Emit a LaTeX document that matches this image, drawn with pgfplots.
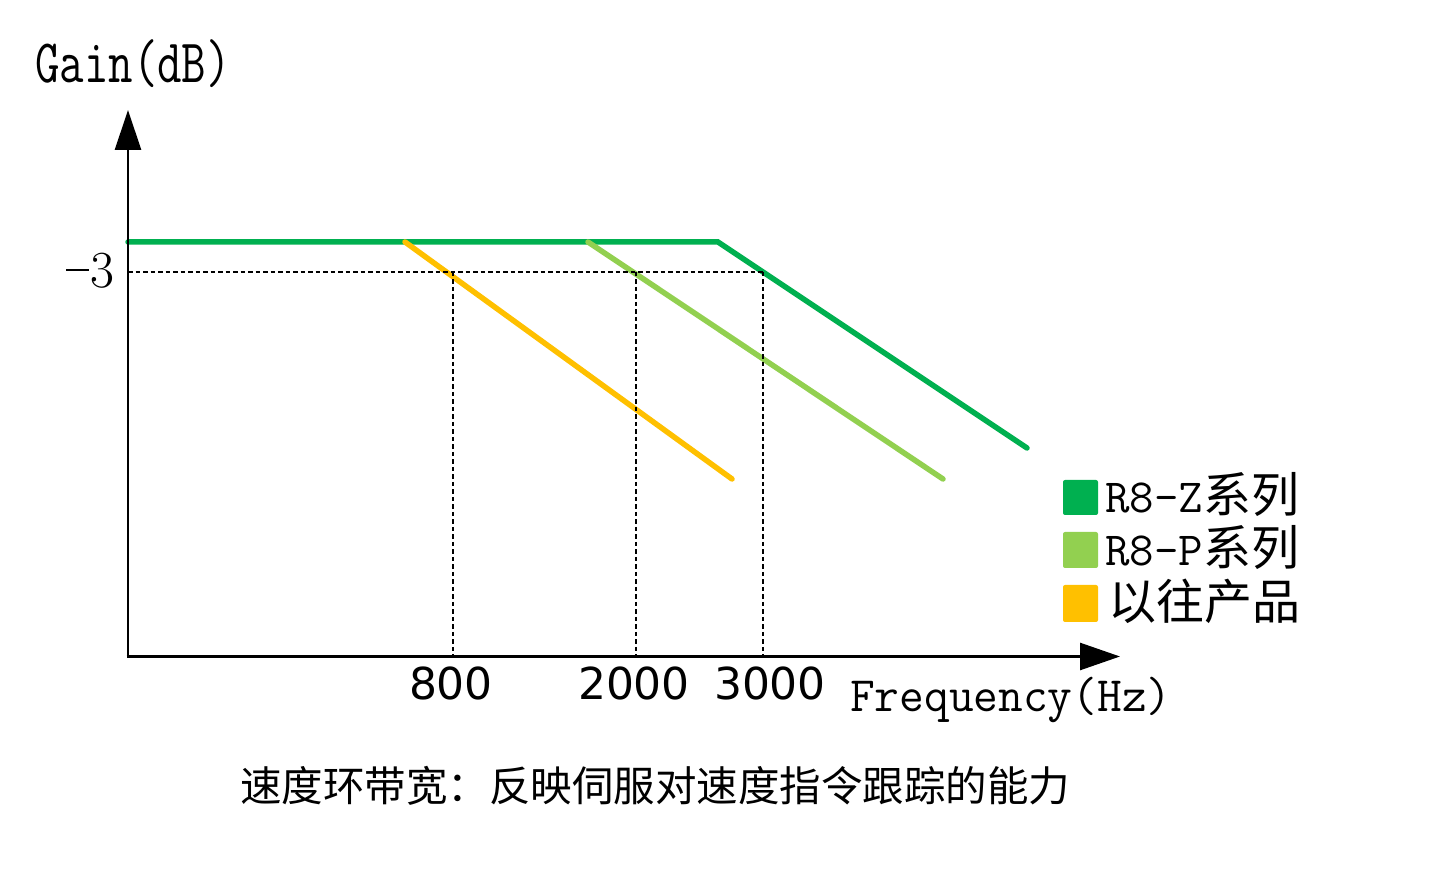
\documentclass[border=0pt]{standalone}
\usepackage{pgfplots}
\pgfplotsset{compat=1.18}
\usepackage{fontspec}
\newfontfamily\cjk{Noto Sans CJK SC}
\newfontfamily\dejavu{DejaVu Sans}
\usetikzlibrary{arrows.meta}
\definecolor{zgreen}{HTML}{00B050}
\definecolor{pgreen}{HTML}{92D050}
\definecolor{oldc}{HTML}{FFC000}
\begin{document}
\begin{tikzpicture}
\begin{axis}[
  scale only axis, width=1432pt, height=873pt,
  xmin=0, xmax=1432, ymin=0, ymax=873,
  hide axis, clip=false,
]
\path (axis cs:0,0) rectangle (axis cs:1432,873);
% data curves (schematic)
\addplot[zgreen, line width=5.5pt, line cap=round, line join=miter] coordinates {(128,631) (718,631) (1027,425)};
\addplot[pgreen, line width=5.5pt, line cap=round] coordinates {(588,631) (943,394)};
\addplot[oldc, line width=5.5pt, line cap=round] coordinates {(405,631) (732,394)};
% -3 dB guide lines
\addplot[black, line width=2.8pt, dash pattern=on 4.5pt off 3pt] coordinates {(128,601) (763,601)};
\addplot[black, line width=2.8pt, dash pattern=on 4.5pt off 3pt] coordinates {(453,601) (453,216)};
\addplot[black, line width=2.8pt, dash pattern=on 4.5pt off 3pt] coordinates {(636,601) (636,216)};
\addplot[black, line width=2.8pt, dash pattern=on 4.5pt off 3pt] coordinates {(763,601) (763,216)};
% axes
\draw[line width=2.6pt, -{Triangle[length=40pt, width=26pt]}] (axis cs:128,215) -- (axis cs:128,763);
\draw[line width=2.6pt, -{Triangle[length=40pt, width=27pt]}] (axis cs:126.7,216.5) -- (axis cs:1120,216.5);
% legend
\fill[zgreen, rounded corners=2pt] (axis cs:1063,358) rectangle (axis cs:1098,393);
\fill[pgreen, rounded corners=2pt] (axis cs:1063,305) rectangle (axis cs:1098,341);
\fill[oldc, rounded corners=2pt] (axis cs:1063,251) rectangle (axis cs:1098,288);
\node[anchor=base west, inner sep=0pt] at (axis cs:1105,360) {{\fontsize{47.5}{50}\ttfamily R8-Z}{\fontsize{48}{56}\cjk 系列}};
\node[anchor=base west, inner sep=0pt] at (axis cs:1105,307) {{\fontsize{47.5}{50}\ttfamily R8-P}{\fontsize{48}{56}\cjk 系列}};
\node[anchor=base west, inner sep=0pt] at (axis cs:1108,253) {\fontsize{48}{56}\cjk 以往产品};
% labels
\node[anchor=base west, inner sep=0pt] at (axis cs:35,790) {\fontsize{47.5}{50}\ttfamily\scalebox{1}[1.30]{Gain(dB)}};
\node[anchor=base west, inner sep=0pt] at (axis cs:850,161) {\fontsize{48}{50}\ttfamily\scalebox{1}[1.03]{Frequency(Hz)}};
\node[anchor=base east, inner sep=0pt] at (axis cs:115,585) {\fontsize{52}{60}\selectfont\rule[16.5pt]{23pt}{2.8pt}\kern1.5pt 3};
\node[anchor=base, inner sep=0pt] at (axis cs:451,173) {\fontsize{44}{52}\dejavu 800};
\node[anchor=base, inner sep=0pt] at (axis cs:634,173) {\fontsize{44}{52}\dejavu 2000};
\node[anchor=base, inner sep=0pt] at (axis cs:770,173) {\fontsize{44}{52}\dejavu 3000};
\node[anchor=west, inner sep=0pt] at (axis cs:240,87) {\fontsize{41.5}{48}\cjk 速度环带宽：反映伺服对速度指令跟踪的能力};
\end{axis}
\end{tikzpicture}
\end{document}
